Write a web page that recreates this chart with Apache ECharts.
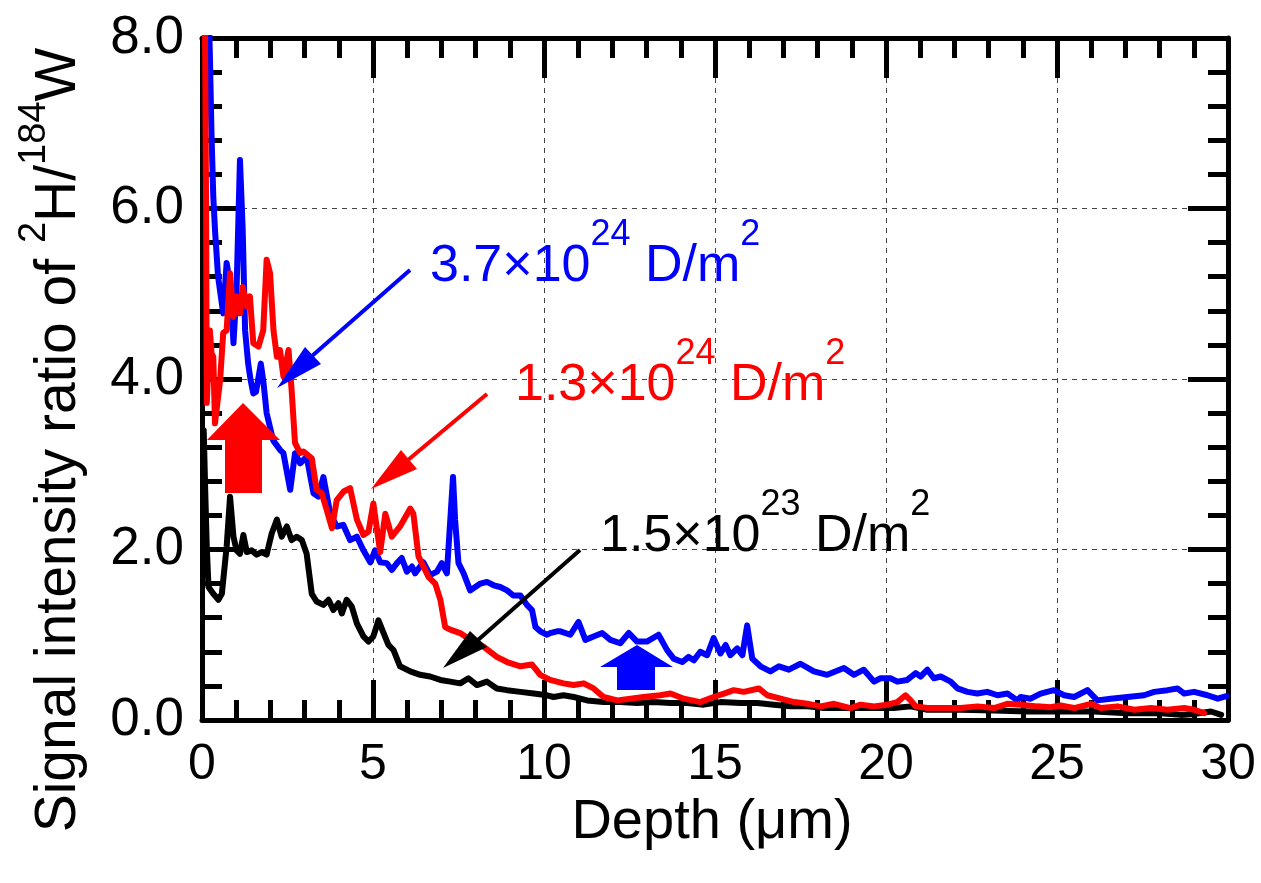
<!DOCTYPE html>
<html>
<head>
<meta charset="utf-8">
<script src="https://cdn.jsdelivr.net/npm/echarts@6/dist/echarts.min.js"></script>
<style>html,body{margin:0;padding:0;background:#fff;}#c{width:1261px;height:883px;}</style>
</head>
<body>
<div id="c"></div>
<script>
// ---- data ----
const xTicks = [0, 5, 10, 15, 20, 25, 30];
const yTicks = [0, 2, 4, 6, 8];
const seriesNames = ['3.7×10^24 D/m^2', '1.5×10^23 D/m^2', '1.3×10^24 D/m^2'];

const blueData = [[0.18,8.6],[0.23,7.8],[0.28,6.84],[0.33,6.14],[0.38,5.75],[0.47,5.2],[0.62,4.77],[0.72,5.36],[0.82,5.12],[0.92,4.42],[1.01,5.04],[1.11,6.57],[1.19,5.75],[1.26,4.57],[1.35,4.18],[1.42,3.99],[1.5,3.83],[1.58,3.85],[1.72,4.18],[1.8,3.95],[1.89,3.6],[2.08,3.28],[2.28,3.17],[2.38,3.13],[2.58,2.70],[2.72,3.13],[2.87,3.01],[3.06,3.09],[3.26,2.66],[3.40,2.62],[3.55,2.85],[3.75,2.42],[3.94,2.27],[4.13,2.29],[4.33,2.11],[4.53,2.15],[4.72,1.99],[4.92,1.85],[5.06,1.99],[5.21,1.85],[5.40,1.84],[5.55,1.76],[5.70,1.84],[5.84,1.90],[5.99,1.74],[6.14,1.80],[6.23,1.72],[6.47,1.85],[6.67,1.70],[6.87,1.74],[7.01,1.84],[7.16,1.72],[7.26,2.35],[7.34,2.85],[7.40,2.35],[7.50,1.84],[7.65,1.72],[7.84,1.52],[7.99,1.56],[8.14,1.60],[8.33,1.62],[8.53,1.58],[8.72,1.56],[8.92,1.52],[9.1,1.46],[9.31,1.46],[9.50,1.35],[9.65,1.29],[9.75,1.09],[9.89,1.04],[10.09,1.0],[10.18,1.02],[10.38,1.04],[10.48,1.04],[10.77,1.0],[11.01,1.15],[11.21,0.94],[11.45,0.98],[11.70,1.02],[11.94,0.94],[12.23,0.90],[12.48,1.02],[12.72,0.92],[13.01,0.92],[13.35,1.0],[13.6,0.82],[13.79,0.72],[14.04,0.68],[14.23,0.74],[14.38,0.70],[14.57,0.80],[14.77,0.76],[14.96,0.96],[15.16,0.78],[15.31,0.88],[15.45,0.76],[15.65,0.84],[15.80,0.76],[15.94,1.11],[16.09,0.72],[16.33,0.63],[16.62,0.57],[16.87,0.63],[17.16,0.59],[17.5,0.66],[17.89,0.57],[18.28,0.53],[18.77,0.61],[19.06,0.53],[19.35,0.59],[19.65,0.45],[19.84,0.49],[20.13,0.49],[20.33,0.45],[20.62,0.47],[20.87,0.55],[21.01,0.51],[21.21,0.59],[21.4,0.49],[21.6,0.51],[21.89,0.45],[22.09,0.37],[22.38,0.33],[22.67,0.31],[22.96,0.33],[23.26,0.29],[23.55,0.31],[23.84,0.23],[23.94,0.27],[24.23,0.25],[24.52,0.31],[24.91,0.35],[25.21,0.29],[25.5,0.27],[25.89,0.35],[26.18,0.23],[26.57,0.25],[27.06,0.27],[27.55,0.29],[27.84,0.33],[28.23,0.35],[28.52,0.37],[28.72,0.31],[29.01,0.33],[29.4,0.29],[29.7,0.25],[29.95,0.28]];

const redData = [[0.08,8.6],[0.12,6.0],[0.14,3.72],[0.19,4.2],[0.23,4.57],[0.28,4.3],[0.33,4.26],[0.38,3.48],[0.43,3.48],[0.53,3.99],[0.62,4.54],[0.72,4.57],[0.82,5.24],[0.92,4.73],[1.01,4.97],[1.11,4.77],[1.19,5.08],[1.31,4.85],[1.40,4.97],[1.50,4.42],[1.65,4.38],[1.79,4.57],[1.89,5.40],[1.99,5.24],[2.09,4.57],[2.19,4.26],[2.28,4.34],[2.38,4.03],[2.53,4.34],[2.62,3.87],[2.72,3.25],[2.87,3.13],[2.96,3.15],[3.21,3.07],[3.35,2.70],[3.50,2.66],[3.65,2.46],[3.80,2.25],[3.94,2.58],[4.14,2.68],[4.33,2.72],[4.53,2.35],[4.72,2.17],[4.87,2.21],[5.01,2.54],[5.21,1.97],[5.36,2.42],[5.55,2.15],[5.79,2.27],[6.09,2.48],[6.18,2.42],[6.33,1.92],[6.62,1.68],[6.82,1.6],[6.97,1.41],[7.11,1.09],[7.26,1.06],[7.55,1.02],[7.84,0.94],[8.23,0.86],[8.62,0.74],[8.92,0.68],[9.31,0.63],[9.65,0.65],[9.89,0.53],[10.18,0.47],[10.57,0.43],[10.87,0.41],[11.16,0.43],[11.45,0.37],[11.74,0.27],[12.14,0.23],[12.53,0.25],[12.91,0.27],[13.4,0.29],[13.70,0.31],[14.09,0.25],[14.57,0.21],[14.96,0.27],[15.26,0.31],[15.55,0.35],[15.84,0.33],[16.28,0.37],[16.53,0.29],[16.92,0.25],[17.31,0.21],[17.70,0.19],[18.09,0.16],[18.48,0.19],[18.96,0.14],[19.26,0.18],[19.65,0.16],[20.04,0.18],[20.33,0.21],[20.57,0.29],[20.72,0.23],[20.87,0.16],[21.21,0.14],[21.7,0.14],[22.18,0.14],[22.67,0.16],[23.16,0.14],[23.55,0.19],[23.94,0.18],[24.42,0.16],[24.81,0.15],[25.1,0.17],[25.5,0.14],[25.99,0.19],[26.28,0.14],[26.77,0.16],[27.26,0.12],[27.75,0.14],[28.23,0.12],[28.72,0.14],[29.01,0.12],[29.3,0.08]];

const blackData = [[0.05,3.4],[0.1,2.6],[0.14,2.03],[0.19,1.56],[0.33,1.48],[0.48,1.41],[0.58,1.48],[0.72,2.03],[0.82,2.62],[0.92,2.15],[1.01,1.99],[1.11,1.95],[1.21,2.17],[1.31,1.97],[1.45,1.99],[1.60,1.94],[1.75,1.97],[1.89,1.94],[2.04,2.19],[2.19,2.35],[2.33,2.15],[2.48,2.27],[2.62,2.11],[2.77,2.15],[2.92,2.11],[3.06,1.95],[3.21,1.48],[3.35,1.39],[3.55,1.35],[3.70,1.41],[3.84,1.29],[3.99,1.37],[4.09,1.25],[4.23,1.41],[4.38,1.33],[4.53,1.13],[4.72,0.98],[4.87,0.92],[5.01,0.98],[5.16,1.17],[5.31,1.02],[5.45,0.88],[5.60,0.82],[5.79,0.63],[6.09,0.57],[6.38,0.53],[6.67,0.51],[6.97,0.47],[7.26,0.45],[7.55,0.43],[7.79,0.49],[8.04,0.41],[8.33,0.45],[8.62,0.37],[8.92,0.35],[9.31,0.33],[9.70,0.31],[10.09,0.29],[10.28,0.27],[10.57,0.29],[10.87,0.27],[11.26,0.23],[11.74,0.21],[12.23,0.21],[12.72,0.20],[13.21,0.21],[13.7,0.2],[14.19,0.2],[14.67,0.18],[15.16,0.21],[15.75,0.20],[16.24,0.2],[16.72,0.18],[17.21,0.16],[17.70,0.16],[18.19,0.14],[18.67,0.14],[19.16,0.14],[19.65,0.14],[20.23,0.14],[20.72,0.16],[21.21,0.12],[22.18,0.12],[23.16,0.11],[24.13,0.10],[25.11,0.10],[26.09,0.10],[27.06,0.08],[28.04,0.08],[28.62,0.06],[29.0,0.07],[29.5,0.10],[29.8,0.06]];

// ---- chart ----
const FONT = '"Liberation Sans", Arial, sans-serif';
const chart = echarts.init(document.getElementById('c'), null, {renderer: 'canvas'});

function axisCommon(showLabel, isX) {
  return {
    type: 'value',
    axisLine: {show: true, onZero: false, lineStyle: {color: '#000', width: 5}},
    axisTick: {show: true, inside: true, length: 40, lineStyle: {color: '#000', width: 5}},
    minorTick: {show: true, splitNumber: 5, length: 20, lineStyle: {color: '#000', width: 5}},
    axisLabel: {show: showLabel, color: '#000', fontFamily: FONT, fontSize: isX ? 50 : 53, margin: isX ? 20 : 18,
      formatter: isX ? (v => String(v)) : (v => v.toFixed(1))},
    splitLine: {show: showLabel, lineStyle: {color: '#444', width: 1, type: [5, 5]}},
    minorSplitLine: {show: false}
  };
}

const xMain = Object.assign(axisCommon(true, true), {min: xTicks[0], max: xTicks[xTicks.length-1], interval: 5, position: 'bottom'});
const xTop = Object.assign(axisCommon(false, true), {min: xTicks[0], max: xTicks[xTicks.length-1], interval: 5, position: 'top'});
const yMain = Object.assign(axisCommon(true, false), {min: yTicks[0], max: yTicks[yTicks.length-1], interval: 2, position: 'left'});
const yRight = Object.assign(axisCommon(false, false), {min: yTicks[0], max: yTicks[yTicks.length-1], interval: 2, position: 'right'});

const supRich = (color, big, small, lh) => ({
  n: {fontSize: big, fontFamily: FONT, fill: color, lineHeight: lh, verticalAlign: 'bottom'},
  s: {fontSize: small, fontFamily: FONT, fill: color, verticalAlign: 'top'}
});

const graphics = [
  // y-axis title
  {type: 'text', x: 52, y: 440, rotation: Math.PI / 2, z: 100,
   style: {text: '{n|Signal intensity ratio of }{s|2}{n|H/}{s|184}{n|W}', align: 'center', verticalAlign: 'middle',
     rich: supRich('#000', 57, 38, 72)}},
  // x-axis title
  {type: 'text', x: 712, y: 823, z: 100,
   style: {text: 'Depth (μm)', fontFamily: FONT, fontSize: 56, fill: '#000', align: 'center', verticalAlign: 'middle'}},
  // annotations
  {type: 'text', x: 430, y: 217, z: 100,
   style: {text: '{n|3.7×10}{s|24}{n| D/m}{s|2}', align: 'left', verticalAlign: 'top', rich: supRich('#0000ff', 52, 36, 76)}},
  {type: 'text', x: 515, y: 336, z: 100,
   style: {text: '{n|1.3×10}{s|24}{n| D/m}{s|2}', align: 'left', verticalAlign: 'top', rich: supRich('#ff0000', 52, 36, 76)}},
  {type: 'text', x: 600, y: 487, z: 100,
   style: {text: '{n|1.5×10}{s|23}{n| D/m}{s|2}', align: 'left', verticalAlign: 'top', rich: supRich('#000000', 52, 36, 76)}},
  // arrows (line + head)
  {type: 'line', z: 100, shape: {x1: 410, y1: 270, x2: 312, y2: 356}, style: {stroke: '#0000ff', lineWidth: 4}},
  {type: 'polygon', z: 100, shape: {points: [[277, 388], [305, 347], [321, 364]]}, style: {fill: '#0000ff'}},
  {type: 'line', z: 100, shape: {x1: 487, y1: 394, x2: 408, y2: 460}, style: {stroke: '#ff0000', lineWidth: 4}},
  {type: 'polygon', z: 100, shape: {points: [[371, 489], [401, 450], [417, 469]]}, style: {fill: '#ff0000'}},
  {type: 'line', z: 100, shape: {x1: 580, y1: 550, x2: 478, y2: 640}, style: {stroke: '#000000', lineWidth: 4}},
  {type: 'polygon', z: 100, shape: {points: [[443, 668], [470, 631], [487, 647]]}, style: {fill: '#000000'}},
  // block arrows
  {type: 'polygon', z: 100, shape: {points: [[243, 403], [280, 440], [262, 440], [262, 493], [225, 493], [225, 440], [207, 440]]}, style: {fill: '#ff0000'}},
  {type: 'polygon', z: 100, shape: {points: [[637, 645], [673, 667], [655, 667], [655, 690], [617, 690], [617, 667], [600, 667]]}, style: {fill: '#0000ff'}}
];

const mk = (name, data, color) => ({
  name: name, type: 'line', data: data, showSymbol: false, symbol: 'none', clip: true,
  xAxisIndex: 0, yAxisIndex: 0, animation: false,
  lineStyle: {color: color, width: 6, join: 'round', cap: 'round'}, itemStyle: {color: color}, z: 5
});

chart.setOption({
  animation: false,
  backgroundColor: '#fff',
  grid: {left: 202, right: 33, top: 38, bottom: 163, containLabel: false},
  xAxis: [xMain, xTop],
  yAxis: [yMain, yRight],
  series: [
    mk(seriesNames[0], blueData, '#0000ff'),
    mk(seriesNames[1], blackData, '#000000'),
    mk(seriesNames[2], redData, '#ff0000')
  ],
  graphic: graphics
});
</script>
</body>
</html>
